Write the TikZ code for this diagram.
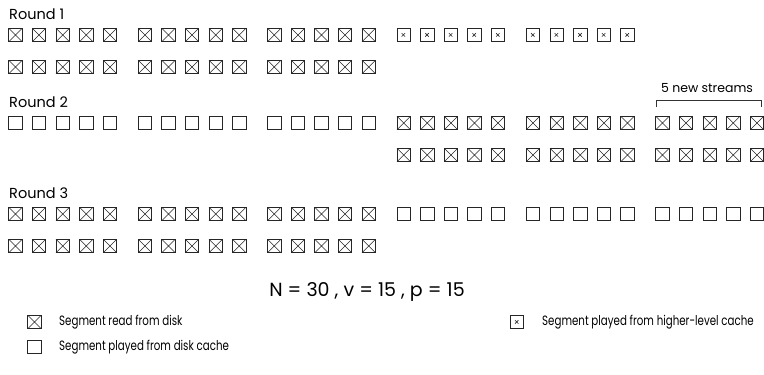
\documentclass[tikz,border=0pt]{standalone}
\usepackage{fontspec}
\setmainfont{Poppins}
\newfontfamily\legfont[FakeStretch=0.76]{Poppins}
\newcommand\segs[4]{\foreach \g in {#3}{\foreach \k in {0,...,4}{\node[#4] (#1-\g-\k) at ({15.5+129.4*\g+23.6*\k},#2) {};}}}
\begin{document}
\begin{tikzpicture}[x=1pt,y=-1pt,
  seg/.style={draw=black!85, line width=0.75pt, minimum size=13.5pt, inner sep=0pt, outer sep=0pt},
  disk/.style={seg, path picture={\draw[line width=0.55pt]
      (path picture bounding box.north west) -- (path picture bounding box.south east)
      (path picture bounding box.north east) -- (path picture bounding box.south west);}},
  dcache/.style={seg},
  hcache/.style={seg, line width=0.9pt, path picture={\draw[line width=0.6pt]
      ([shift={(-2pt,1.8pt)}]path picture bounding box.center) -- ++(3.4pt,-3.4pt)
      ([shift={(-2pt,-1.6pt)}]path picture bounding box.center) -- ++(3.4pt,3.4pt);}},
  roundlbl/.style={anchor=base west, inner sep=0pt, font=\fontsize{14.5}{15}\selectfont},
  legtxt/.style={anchor=west, inner sep=0pt, font=\legfont\fontsize{13.5}{14}\selectfont}]
\useasboundingbox (0,0) rectangle (764,375);
\fill[white] (0,0) rectangle (764,375);

\node[roundlbl] (lab1) at (9,19) {Round 1};
\segs{r1a}{35}{0,1,2}{disk}
\segs{r1a}{35}{3,4}{hcache}
\segs{r1b}{67}{0,1,2}{disk}

\node[roundlbl] (lab2) at (9,107) {Round 2};
\segs{r2a}{123}{0,1,2}{dcache}
\segs{r2a}{123}{3,4,5}{disk}
\segs{r2b}{155}{3,4,5}{disk}

\node[roundlbl] (lab3) at (9,198) {Round 3};
\segs{r3a}{214}{0,1,2}{disk}
\segs{r3a}{214}{3,4,5}{dcache}
\segs{r3b}{246}{0,1,2}{disk}

\coordinate (b1) at (656,107);
\coordinate (b2) at (656,100);
\coordinate (b3) at (761,100);
\coordinate (b4) at (761,107);
\draw[line width=0.6pt, black!80] (b1) -- (b2) -- (b3) -- (b4);
\node[inner sep=0pt, font=\fontsize{12.5}{13}\selectfont] (news) at (707,88) {5 new streams};

\node[inner sep=0pt, font=\fontsize{19}{20}\selectfont] (formula) at (367,292) {N = 30 , v = 15 , p = 15};

\node[disk] (k1) at (34.5,322) {};
\node[legtxt] (t1) at (59,322) {Segment read from disk};
\node[dcache] (k2) at (34.5,347) {};
\node[legtxt] (t2) at (59,347) {Segment played from disk cache};
\node[hcache] (k3) at (517,322) {};
\node[legtxt] (t3) at (542,322) {Segment played from higher-level cache};
\end{tikzpicture}
\end{document}
